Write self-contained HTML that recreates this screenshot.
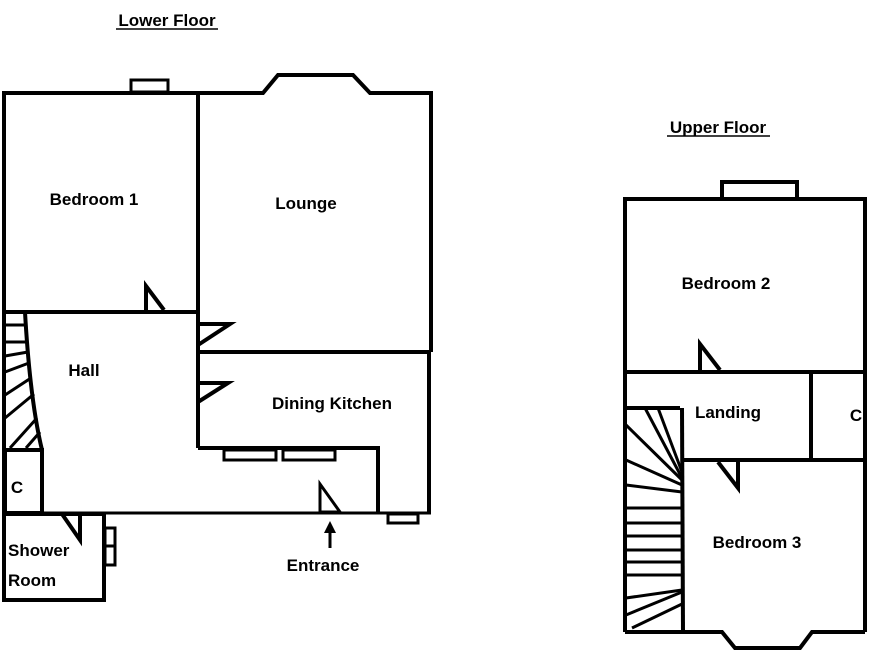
<!DOCTYPE html>
<html><head><style>
html,body{margin:0;padding:0;background:#fff;}
svg{display:block}
text{font-family:"Liberation Sans",sans-serif;font-weight:bold;font-size:17px;fill:#000}
</style></head><body>
<svg width="888" height="653" viewBox="0 0 888 653" xmlns="http://www.w3.org/2000/svg">
<g fill="none" stroke="#000" stroke-width="4" stroke-linejoin="miter">
<rect x="4" y="93" width="194" height="219"/>
<rect x="131" y="80" width="37" height="12" stroke-width="3"/>
<polyline points="198,93 263,93 278,75 353,75 370,93 431,93 431,352"/>
<line x1="198" y1="93" x2="198" y2="448"/>
<line x1="198" y1="352" x2="431" y2="352"/>
<polyline points="429,352 429,513"/>
<polyline points="198,448 378,448 378,513"/>
<line x1="4" y1="312" x2="4" y2="513"/>
<line x1="4" y1="312" x2="198" y2="312"/>
<line x1="42" y1="513" x2="431" y2="513" stroke-width="3"/>
<rect x="5" y="450" width="37" height="63"/>
<path d="M25,312 Q30,400 42,450"/>
<g stroke-width="3">
<line x1="5" y1="325" x2="26" y2="325"/>
<line x1="5" y1="342" x2="27" y2="342"/>
<line x1="5" y1="356" x2="28" y2="352"/>
<line x1="5" y1="372" x2="29" y2="363"/>
<line x1="5" y1="395" x2="31" y2="378"/>
<line x1="5" y1="418" x2="34" y2="394"/>
<line x1="10" y1="448" x2="37" y2="418"/>
<line x1="26" y1="448" x2="40" y2="432"/>
</g>
<rect x="4" y="514" width="100" height="86"/>
<rect x="105" y="528" width="10" height="18" stroke-width="3"/>
<rect x="105" y="546" width="10" height="19" stroke-width="3"/>
<rect x="224" y="450" width="52" height="10" stroke-width="3"/>
<rect x="283" y="450" width="52" height="10" stroke-width="3"/>
<rect x="388" y="514" width="30" height="9" stroke-width="3"/>
<polyline points="146,312 146,286 164,310"/>
<polyline points="198,324 230,324 198,345"/>
<polyline points="198,383 228,383 198,402"/>
<polygon points="320,484 320,512 340,512" stroke-width="3"/>
<polyline points="62,514 80,540 80,514"/>
<line x1="330" y1="548" x2="330" y2="530" stroke-width="3"/>
<rect x="625" y="199" width="240" height="173"/>
<rect x="722" y="182" width="75" height="17"/>
<line x1="625" y1="372" x2="625" y2="632"/>
<line x1="865" y1="372" x2="865" y2="632"/>
<line x1="811" y1="372" x2="811" y2="460"/>
<line x1="683" y1="460" x2="865" y2="460"/>
<polyline points="625,632 722,632 735,648 800,648 812,632 865,632"/>
<line x1="682" y1="408" x2="683" y2="632"/>
<line x1="625" y1="408" x2="680" y2="408"/>
<polyline points="700,372 700,344 720,370"/>
<polyline points="718,462 738,488 738,462"/>
<g stroke-width="3">
<line x1="645" y1="408" x2="682" y2="478"/>
<line x1="658" y1="408" x2="682" y2="472"/>
<line x1="626" y1="425" x2="682" y2="480"/>
<line x1="626" y1="460" x2="682" y2="485"/>
<line x1="626" y1="485" x2="682" y2="492"/>
<line x1="626" y1="508" x2="682" y2="508"/>
<line x1="626" y1="523" x2="682" y2="523"/>
<line x1="626" y1="536" x2="682" y2="536"/>
<line x1="626" y1="550" x2="682" y2="550"/>
<line x1="626" y1="562" x2="682" y2="562"/>
<line x1="626" y1="575" x2="682" y2="575"/>
<line x1="626" y1="598" x2="682" y2="590"/>
<line x1="626" y1="615" x2="682" y2="592"/>
<line x1="632" y1="628" x2="682" y2="604"/>
</g>
</g>
<polygon points="330,521 324,533 336,533" fill="#000"/>
<text x="167" y="26" text-anchor="middle">Lower Floor</text>
<line x1="116" y1="29" x2="218" y2="29" stroke="#000" stroke-width="1.5"/>
<text x="94" y="205" text-anchor="middle">Bedroom 1</text>
<text x="306" y="209" text-anchor="middle">Lounge</text>
<text x="84" y="376" text-anchor="middle">Hall</text>
<text x="332" y="409" text-anchor="middle">Dining Kitchen</text>
<text x="17" y="493" text-anchor="middle">C</text>
<text x="8" y="556">Shower</text>
<text x="8" y="586">Room</text>
<text x="323" y="571" text-anchor="middle">Entrance</text>
<text x="718" y="133" text-anchor="middle">Upper Floor</text>
<line x1="667" y1="136" x2="770" y2="136" stroke="#000" stroke-width="1.5"/>
<text x="726" y="289" text-anchor="middle">Bedroom 2</text>
<text x="728" y="418" text-anchor="middle">Landing</text>
<text x="856" y="421" text-anchor="middle">C</text>
<text x="757" y="548" text-anchor="middle">Bedroom 3</text>
</svg>
</body></html>
